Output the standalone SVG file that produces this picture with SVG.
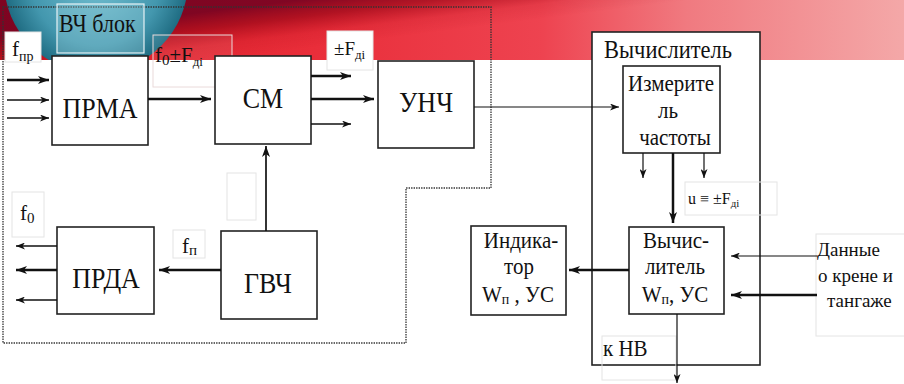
<svg xmlns="http://www.w3.org/2000/svg" width="904" height="384" viewBox="0 0 904 384">
<defs>
<linearGradient id="redH" x1="0" y1="0" x2="904" y2="0" gradientUnits="userSpaceOnUse">
<stop offset="0" stop-color="#dc2028"/>
<stop offset="0.35" stop-color="#e92e3a"/>
<stop offset="0.6" stop-color="#ee4350"/>
<stop offset="0.76" stop-color="#f07a80"/>
<stop offset="1" stop-color="#f4a8a8"/>
</linearGradient>
<linearGradient id="darkV" x1="300" y1="0" x2="306" y2="48" gradientUnits="userSpaceOnUse">
<stop offset="0" stop-color="#6e0020" stop-opacity="0.85"/>
<stop offset="0.35" stop-color="#8c0012" stop-opacity="0.6"/>
<stop offset="0.7" stop-color="#a00010" stop-opacity="0.12"/>
<stop offset="1" stop-color="#a00010" stop-opacity="0"/>
</linearGradient>
<linearGradient id="fadeH" x1="0" y1="0" x2="904" y2="0" gradientUnits="userSpaceOnUse">
<stop offset="0" stop-color="#fff"/>
<stop offset="0.6" stop-color="#fff"/>
<stop offset="1" stop-color="#555"/>
</linearGradient>
<mask id="fadeMask"><rect x="0" y="0" width="904" height="60" fill="url(#fadeH)"/></mask>
<radialGradient id="blue" cx="0.5" cy="0.5" r="0.5">
<stop offset="0" stop-color="#74c0d2"/>
<stop offset="0.7" stop-color="#4397ae"/>
<stop offset="1" stop-color="#1f6c82"/>
</radialGradient>
<clipPath id="band"><rect x="0" y="0" width="904" height="60"/></clipPath>
<marker id="ah" viewBox="0 0 11 8" markerWidth="11" markerHeight="8" refX="11" refY="4" orient="auto" markerUnits="userSpaceOnUse">
<path d="M0,0 L11,4 L0,8 L3,4 z" fill="#111"/>
</marker>
<marker id="ahs" viewBox="0 0 9 7" markerWidth="9" markerHeight="7" refX="9" refY="3.5" orient="auto" markerUnits="userSpaceOnUse">
<path d="M0,0 L9,3.5 L0,7 L2.5,3.5 z" fill="#111"/>
</marker>
</defs>
<style>
text{font-family:"Liberation Serif","Times New Roman","DejaVu Serif",serif;fill:#111}
.big{font-size:26px;text-anchor:middle}
.mid{font-size:21px;text-anchor:middle}
.box{fill:#fff;stroke:#222;stroke-width:1.6}
.faint{fill:#fff;stroke:#e4e4e4;stroke-width:1}
.faintn{fill:none;stroke:#e4e4e4;stroke-width:1}
.dot{fill:none;stroke:#333;stroke-width:1.3;stroke-dasharray:1.4 1.1}
.w{stroke:#111;fill:none;stroke-width:2.5}
.m{stroke:#111;fill:none;stroke-width:1.7}
.t{stroke:#111;fill:none;stroke-width:1.2}
</style>
<rect x="0" y="0" width="904" height="384" fill="#fff"/>
<g id="background" clip-path="url(#band)">
<rect x="0" y="0" width="904" height="60" fill="url(#redH)"/>
<rect x="0" y="0" width="904" height="60" fill="url(#darkV)" mask="url(#fadeMask)"/>
<circle cx="96" cy="-19" r="92" fill="url(#blue)"/>
</g>
<g id="vch-block">
<path class="dot" d="M3,7 H491 V188 H406 V343 H3 Z"/>
<rect x="57" y="4" width="87" height="49" fill="#a6d6e2" fill-opacity="0.3" stroke="#e6f2f5" stroke-width="1.2"/>
<text font-size="22" fill="#0e2a32" transform="translate(59,32) scale(1,1.15)">ВЧ блок</text>
</g>
<g id="labels">
<rect class="faint" x="5" y="32" width="36" height="30"/>
<text x="12" y="56" font-size="21">f<tspan font-size="14" dy="5">пр</tspan></text>
<rect x="153" y="35" width="79" height="52" fill="#fff" fill-opacity="0.08" stroke="#eadada" stroke-width="1"/>
<text x="155" y="62" font-size="21">f<tspan font-size="15" dy="3">0</tspan><tspan dy="-3">±F</tspan><tspan font-size="13" dy="4">дi</tspan></text>
<rect class="faint" x="327" y="31" width="46" height="39"/>
<text x="334" y="55" font-size="19">±F<tspan font-size="13" dy="4">дi</tspan></text>
<rect class="faint" x="12" y="192" width="32" height="45"/>
<text x="20" y="220" font-size="21">f<tspan font-size="15" dy="3">0</tspan></text>
<rect class="faint" x="173" y="230" width="32" height="28"/>
<text x="182" y="253" font-size="21">f<tspan font-size="15" dy="2">п</tspan></text>
<rect class="faint" x="227" y="173" width="29" height="47"/>
</g>
<g id="prma">
<rect class="box" x="52" y="56" width="96" height="89"/>
<text class="big" transform="translate(100,118) scale(1,1.15)">ПРМА</text>
</g>
<g id="sm">
<rect class="box" x="215" y="56" width="96" height="88"/>
<text class="big" transform="translate(263,108) scale(1,1.15)">СМ</text>
</g>
<g id="unch">
<rect class="box" x="378" y="61" width="96" height="87"/>
<text class="big" transform="translate(426,112) scale(1,1.15)">УНЧ</text>
</g>
<g id="prda">
<rect class="box" x="57" y="227" width="97" height="87"/>
<text class="big" transform="translate(106,288) scale(1,1.15)">ПРДА</text>
</g>
<g id="gvch">
<rect class="box" x="221" y="231" width="96" height="88"/>
<text class="big" transform="translate(268,293) scale(1,1.15)">ГВЧ</text>
</g>
<g id="vychislitel-block">
<rect class="box" x="592" y="32" width="168" height="333"/>
<text font-size="22.5" transform="translate(604,58) scale(1,1.1)">Вычислитель</text>
<rect class="faintn" x="685" y="182" width="92" height="33"/>
<text x="688" y="204" font-size="16">u ≡ ±F<tspan font-size="11" dy="3">дi</tspan></text>
<rect class="faintn" x="602" y="336" width="74" height="44"/>
<text font-size="21" transform="translate(603,356) scale(1,1.05)">к НВ</text>
</g>
<g id="izmeritel">
<rect class="box" x="623" y="66" width="97" height="87"/>
<text class="mid" transform="translate(671,91) scale(1,1.1)">Измерите</text>
<text class="mid" transform="translate(668,118) scale(1,1.1)">ль</text>
<text class="mid" transform="translate(675,145) scale(1,1.1)">частоты</text>
</g>
<g id="vychislitel-wp">
<rect class="box" x="629" y="227" width="95" height="87"/>
<text class="mid" transform="translate(676,248) scale(1,1.1)">Вычис-</text>
<text class="mid" transform="translate(675,274) scale(1,1.1)">литель</text>
<text class="mid" transform="translate(675,302) scale(1,1.1)">W<tspan font-size="14" dy="2">п</tspan><tspan dy="-2">, УС</tspan></text>
</g>
<g id="indikator">
<rect class="box" x="471" y="226" width="95" height="89"/>
<text class="mid" transform="translate(521,248) scale(1,1.1)">Индика-</text>
<text class="mid" transform="translate(519,274) scale(1,1.1)">тор</text>
<text class="mid" transform="translate(518,302) scale(1,1.1)">W<tspan font-size="14" dy="2">п</tspan><tspan dy="-2"> , УС</tspan></text>
</g>
<g id="dannye">
<rect class="faint" x="816" y="234" width="100" height="102"/>
<text x="817" y="256" font-size="19">Данные</text>
<text x="818" y="282" font-size="19">о крене и</text>
<text x="827" y="307" font-size="19">тангаже</text>
</g>
<g id="connectors">
<line class="w" x1="7" y1="80" x2="49" y2="80" marker-end="url(#ah)"/>
<line class="m" x1="7" y1="100" x2="49" y2="100" marker-end="url(#ahs)"/>
<line class="m" x1="7" y1="118" x2="49" y2="118" marker-end="url(#ahs)"/>
<line class="w" x1="148" y1="99" x2="211" y2="99" marker-end="url(#ah)"/>
<line class="w" x1="311" y1="76" x2="351" y2="76" marker-end="url(#ah)"/>
<line class="w" x1="311" y1="99" x2="374" y2="99" marker-end="url(#ah)"/>
<line class="m" x1="311" y1="124" x2="351" y2="124" marker-end="url(#ahs)"/>
<line class="t" x1="474" y1="107" x2="619" y2="107" marker-end="url(#ahs)"/>
<line class="m" x1="266" y1="231" x2="266" y2="146" marker-end="url(#ah)"/>
<line class="w" x1="221" y1="270" x2="159" y2="270" marker-end="url(#ah)"/>
<line class="m" x1="57" y1="246" x2="16" y2="246" marker-end="url(#ahs)"/>
<line class="w" x1="57" y1="270" x2="16" y2="270" marker-end="url(#ah)"/>
<line class="m" x1="57" y1="300" x2="16" y2="300" marker-end="url(#ahs)"/>
<line class="t" x1="643" y1="153" x2="643" y2="178" marker-end="url(#ahs)"/>
<line class="t" x1="704" y1="153" x2="704" y2="178" marker-end="url(#ahs)"/>
<line class="w" x1="673" y1="153" x2="673" y2="223" marker-end="url(#ah)"/>
<line class="w" x1="629" y1="270" x2="569" y2="270" marker-end="url(#ah)"/>
<line class="t" x1="817" y1="256" x2="731" y2="256" marker-end="url(#ahs)"/>
<line class="w" x1="817" y1="295" x2="731" y2="295" marker-end="url(#ah)"/>
<line class="t" x1="677" y1="314" x2="677" y2="383" marker-end="url(#ahs)"/>
</g>
</svg>
